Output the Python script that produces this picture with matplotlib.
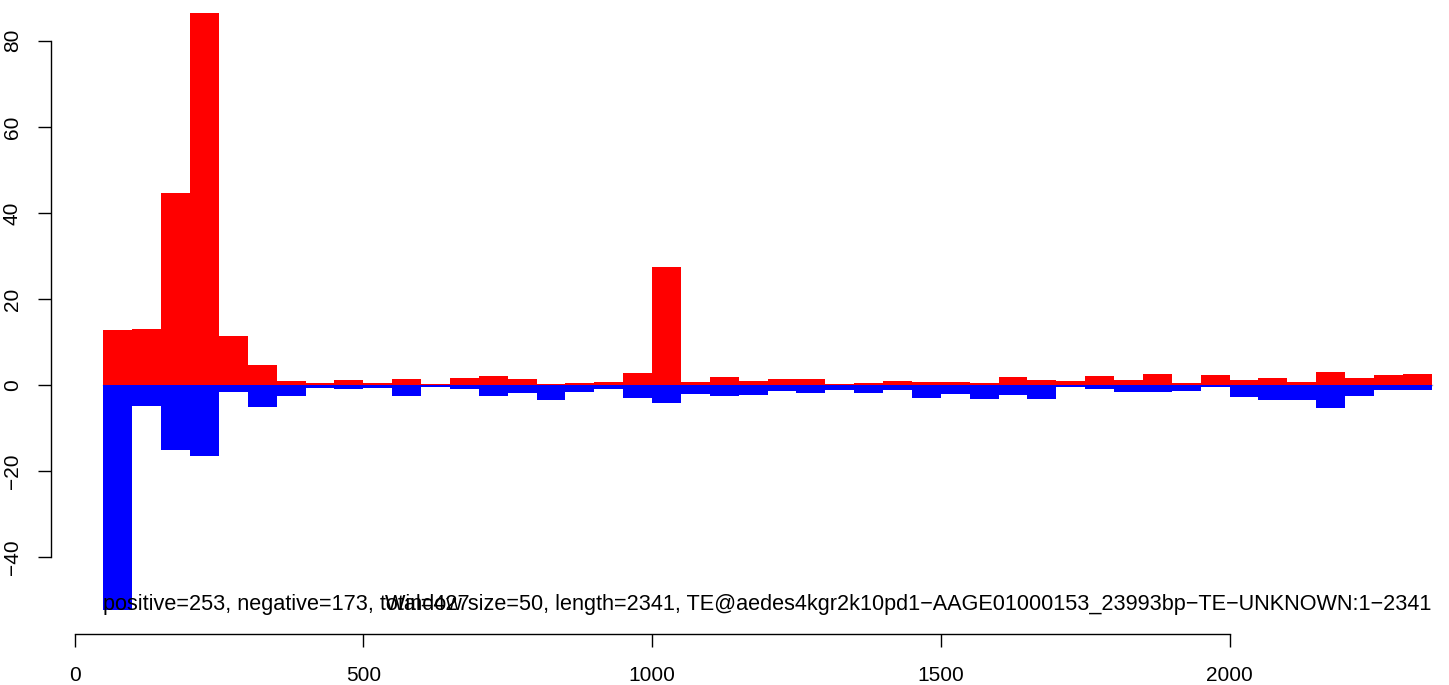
import numpy as np
from matplotlib import pyplot as plt

# window start positions (window size 50)
win_start = np.arange(50, 2350, 50)

positive = [12.7, 13.1, 44.6, 86.5, 11.5, 4.6, 0.93, 0.47, 1.16, 0.46,
            1.39, 0.23, 1.63, 2.09, 1.39, 0.23, 0.46, 0.70, 2.79, 27.4,
            0.70, 1.86, 0.93, 1.39, 1.39, 0.23, 0.46, 0.93, 0.70, 0.70,
            0.46, 1.86, 1.16, 0.93, 2.09, 1.16, 2.56, 0.46, 2.32, 1.16,
            1.63, 0.70, 3.02, 1.63, 2.32, 2.56]

negative = [-52.4, -4.95, -15.1, -16.5, -1.55, -5.1, -2.5, -0.62, -0.9, -0.66,
            -2.52, -0.42, -0.9, -2.52, -1.82, -3.45, -1.6, -0.93, -3.02, -4.18,
            -2.09, -2.52, -2.25, -1.32, -1.78, -1.08, -1.78, -1.08, -2.94, -2.01,
            -3.18, -2.25, -3.18, -0.46, -0.85, -1.63, -1.63, -1.39, -0.39, -2.79,
            -3.49, -3.49, -5.34, -2.56, -1.16, -1.16]

x_ticks = [0, 500, 1000, 1500, 2000]
y_ticks = [-40, -20, 0, 20, 40, 60, 80]

left_text = "positive=253, negative=173, total=427"
right_text = ("Window size=50, length=2341, "
              "TE@aedes4kgr2k10pd1\u2212AAGE01000153_23993bp\u2212TE\u2212UNKNOWN:1\u22122341")

plt.rcParams['font.family'] = ['Liberation Sans', 'DejaVu Sans']

W, H = 1449, 685
fig = plt.figure(figsize=(W / 100, H / 100), dpi=100)

# plot region in pixels
left_px, bottom_px = 50.7, 634
ax = fig.add_axes([left_px / W, (H - bottom_px) / H, (W - left_px) / W, bottom_px / H])

x0_px, x_scale = 74.5, 0.5775      # pixel of x=0, pixels per unit
y0_px, y_scale = 385, 4.3025       # pixel of y=0, pixels per unit
ax.set_xlim((left_px - x0_px) / x_scale, (W - x0_px) / x_scale)
ax.set_ylim((y0_px - bottom_px) / y_scale, y0_px / y_scale)

ax.plot([win_start[0], win_start[-1] + 50], [0, 0], color='#a0a0c8', lw=1, zorder=1)
ax.bar(win_start, positive, width=50, align='edge', color='red', linewidth=0, zorder=2)
ax.bar(win_start, negative, width=50, align='edge', color='blue', linewidth=0, zorder=2)

ax.text(win_start[0], min(negative), left_text, ha='left', va='baseline', fontsize=15.6, zorder=3)
ax.text(win_start[-1] + 50, min(negative), right_text, ha='right', va='baseline', fontsize=15.6, zorder=3)

for s in ['top', 'right']:
    ax.spines[s].set_visible(False)
ax.spines['left'].set_bounds(y_ticks[0], y_ticks[-1])
ax.spines['bottom'].set_bounds(x_ticks[0], x_ticks[-1])
ax.spines['left'].set_linewidth(1)
ax.spines['bottom'].set_linewidth(1)

ax.set_xticks(x_ticks)
ax.set_yticks(y_ticks)
ax.set_xticklabels([str(v) for v in x_ticks])
ax.set_yticklabels([str(v).replace('-', '\u2212') for v in y_ticks], rotation=90, va='center')
ax.tick_params(axis='both', direction='out', length=9.4, width=1, labelsize=15)
ax.tick_params(axis='x', pad=13.5)
ax.tick_params(axis='y', pad=11.5)

fig.savefig('out.png', dpi=100)
